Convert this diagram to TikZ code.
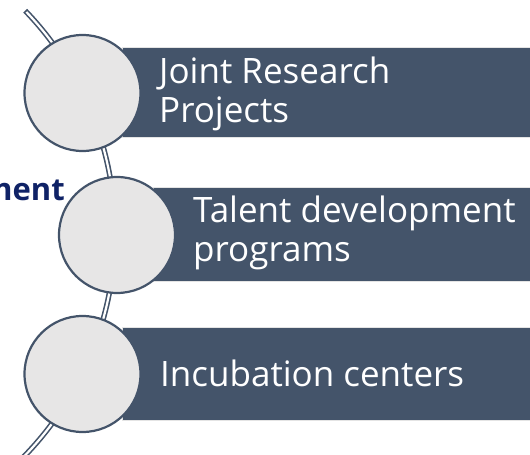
\documentclass[tikz,border=0pt]{standalone}
\usepackage{fontspec}
\usetikzlibrary{calc}
\setmainfont{Open Sans}
\definecolor{slate}{HTML}{44546A}
\definecolor{bubble}{HTML}{E7E6E6}
\definecolor{navy}{HTML}{0F2266}
\definecolor{shade}{HTML}{E4E4E4}
\begin{document}
\begin{tikzpicture}[x=1pt,y=1pt,
  bar/.style={fill=slate,draw=shade,line width=1pt},
  bubblenode/.style={circle,fill=bubble,draw=slate,line width=2.2pt,minimum size=116pt,inner sep=0pt},
  label/.style={text=white,anchor=west,align=left,inner sep=0pt,font=\fontsize{35}{38.5}\selectfont},
  spineout/.style={draw=slate,line width=5.4pt},
  spinein/.style={draw=white,line width=2.2pt}]
\useasboundingbox (0,0) rectangle (530,455);
\clip (0,0) rectangle (530,455);
% spine arc
\coordinate (arcc) at (-205,222);
\coordinate (sout) at ($(arcc)+(44:320)$);
\coordinate (sin) at ($(arcc)+(43.7:320)$);
\draw[spineout] (sout) arc[start angle=44,end angle=-48,radius=320];
\draw[spinein] (sin) arc[start angle=43.7,end angle=-48,radius=320];
% bars
\node[bar,minimum width=420pt,minimum height=90pt,anchor=south west,inner sep=0pt] (b1) at (122,317) {};
\node[bar,minimum width=390pt,minimum height=94pt,anchor=south west,inner sep=0pt] (b2) at (153,173) {};
\node[bar,minimum width=420pt,minimum height=93pt,anchor=south west,inner sep=0pt] (b3) at (122,34) {};
% circles
\node[bubblenode] (c1) at (82.5,362) {};
\node[bubblenode] (c2) at (117,220) {};
\node[bubblenode] (c3) at (82.5,81) {};
% texts
\node[label] (t1) at (159,361) {Joint Research\\Projects};
\node[label] (t2) at (193,222) {Talent development\\programs};
\node[label] (t3) at (160,82) {Incubation centers};
\node[anchor=base east,text=navy,inner sep=0pt,font=\bfseries\fontsize{31}{34}\selectfont] (side) at (65,254) {Talent development};
\end{tikzpicture}
\end{document}
